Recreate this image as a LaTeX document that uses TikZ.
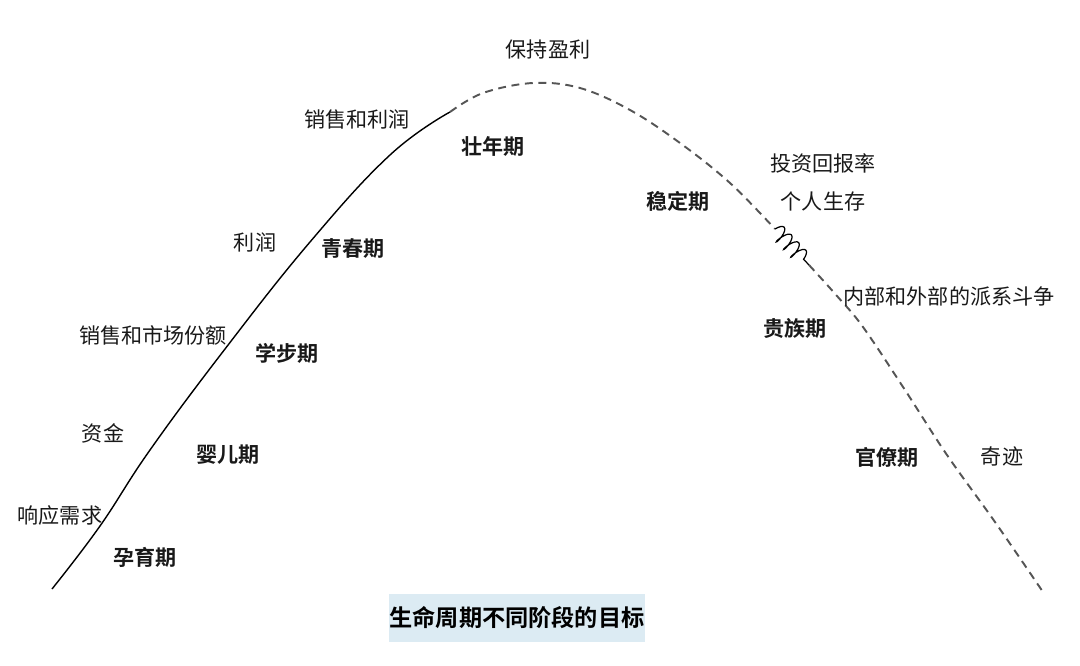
\documentclass[tikz,border=0pt]{standalone}
\usepackage{fontspec}
\setmainfont{Noto Sans CJK SC}[BoldFont={Noto Sans CJK SC Bold}]
\usetikzlibrary{decorations.pathmorphing}
\definecolor{boxblue}{HTML}{DCEBF3}
\definecolor{dashgray}{HTML}{555555}

\begin{document}
\begin{tikzpicture}[x=0.02cm, y=-0.02cm, line width=0.8pt,
  goal/.style={font=\fontsize{12}{14}\selectfont, text=black!90, inner sep=0pt},
  stage/.style={goal, font=\fontsize{12}{14}\selectfont\bfseries}]
  % Marco
  \useasboundingbox (0,0) rectangle (1080,666);
  % Curva: parte sólida
  \draw[black] plot[smooth, tension=0.7] coordinates {(52,589) (100,526) (150,450)
    (225,349) (310,242) (390,155) (450,112)};
  % Curva: parte discontinua
  \coordinate (qa) at (775,229);
  \coordinate (qb) at (809,265);
  \draw[dashgray, line width=1.1pt, dash pattern=on 4.5pt off 3.2pt]
    plot[smooth, tension=0.6] coordinates {(450,112) (483,93) (533,83) (580,88)
    (630,110) (680,143) (730,183) (775,229)};
  \draw[dashgray, line width=1.1pt, dash pattern=on 4.5pt off 3.2pt]
    plot[smooth, tension=0.6] coordinates {(809,265) (837,296) (863,327)
    (905,390) (947,455) (995,522) (1043,592)};
  % Garabato
  \draw[black, line width=0.7pt, decorate,
    decoration={coil, aspect=0.3, amplitude=4.5pt, segment length=6pt}] (qa) -- (qb);
  % Etapas
  \node[stage] (yunyu) at (145,557) {孕育期};
  \node[stage] (yinger) at (228,455) {婴儿期};
  \node[stage] (xuebu) at (287,353) {学步期};
  \node[stage] (qingchun) at (353,249) {青春期};
  \node[stage] (zhuangnian) at (493,146) {壮年期};
  \node[stage] (wending) at (678,201) {稳定期};
  \node[stage] (guizu) at (795,328) {贵族期};
  \node[stage] (guanliao) at (887,457) {官僚期};
  % Objetivos
  \node[goal] (xuqiu) at (60,515) {响应需求};
  \node[goal] (zijin) at (103,433) {资金};
  \node[goal] (fene) at (153,335) {销售和市场份额};
  \node[goal] (lirun) at (255,242) {利润};
  \node[goal] (xiaoshou) at (357,119) {销售和利润};
  \node[goal] (yingli) at (548,50) {保持盈利};
  \node[goal] (huibao) at (823,163) {投资回报率};
  \node[goal] (shengcun) at (823,201) {个人生存};
  \node[goal] (paixi) at (949,296) {内部和外部的派系斗争};
  \node[goal] (qiji) at (1002,456) {奇迹};
  % Título
  \node[fill=boxblue, minimum width=5.14cm, minimum height=0.96cm, inner sep=0pt,
    font=\fontsize{13.2}{15}\selectfont\bfseries] (titulo) at (517,618) {生命周期不同阶段的目标};
\end{tikzpicture}
\end{document}
